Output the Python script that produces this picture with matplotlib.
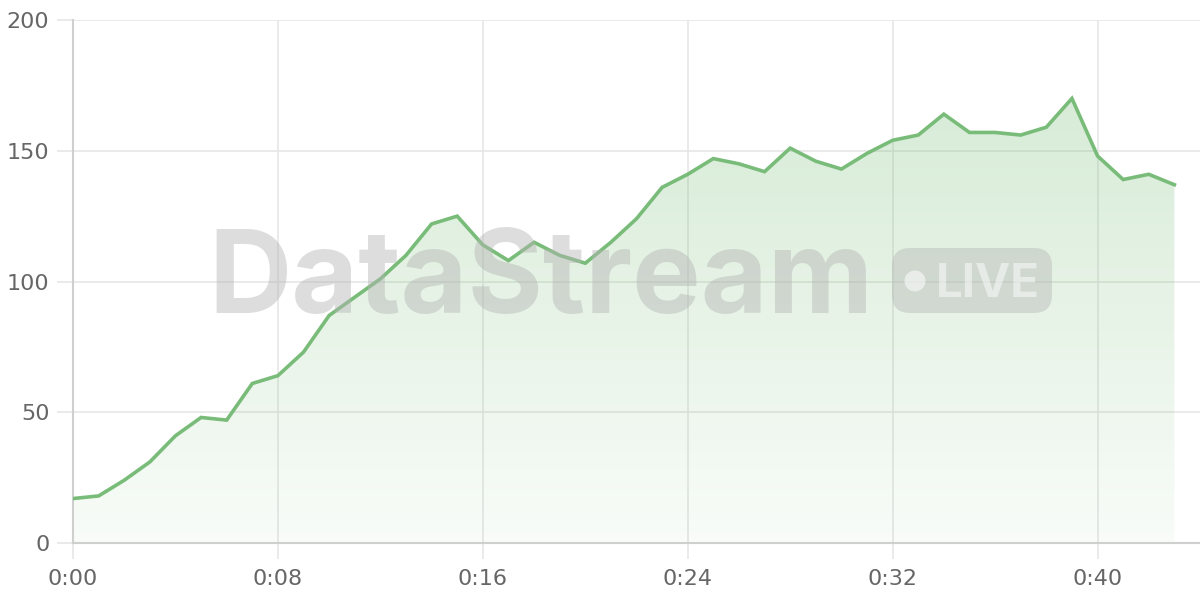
import matplotlib
matplotlib.use("Agg")
import matplotlib.pyplot as plt
import numpy as np
from matplotlib.patches import FancyBboxPatch, Circle
from matplotlib.colors import LinearSegmentedColormap
from matplotlib.transforms import IdentityTransform

minutes = list(range(44))
values = [17, 18, 24, 31, 41, 48, 47, 61, 64, 73, 87, 94, 101, 110, 122, 125,
          114, 108, 115, 110, 107, 115, 124, 136, 141, 147, 145, 142, 151, 146,
          143, 149, 154, 156, 164, 157, 157, 156, 159, 170, 148, 139, 141, 137]
xtick_pos = [0, 8, 16, 24, 32, 40]
xtick_labels = ["0:00", "0:08", "0:16", "0:24", "0:32", "0:40"]
ytick_pos = [0, 50, 100, 150, 200]

plt.rcParams['font.family'] = ['DejaVu Sans']

W, H = 1200, 600
fig = plt.figure(figsize=(12, 6), dpi=100)
ax = fig.add_axes([73/W, 57/H, 1 - 73/W, 523/H])
ax.set_xlim(0, 44)
ax.set_ylim(0, 200)

line_color = '#79bc79'
grid_color = '#e6e6e6'

ax.set_xticks(xtick_pos, xtick_labels)
ax.set_yticks(ytick_pos)
ax.grid(True, color=grid_color, linewidth=1.2, zorder=0)
ax.tick_params(axis='both', colors=grid_color, labelcolor='#666666', labelsize=16,
               length=11.5, width=1.2)
ax.tick_params(axis='x', pad=7)
ax.tick_params(axis='y', pad=5.5)
for s in ['top', 'right']:
    ax.spines[s].set_visible(False)
for s in ['left', 'bottom']:
    ax.spines[s].set_color('#cfcfcf')
    ax.spines[s].set_linewidth(1.5)

# watermark
fig.text(541/W, (H-313)/H, 'DataStream', fontsize=83, family=['Inter'],
         fontweight='bold', color='#b4b4b4', alpha=0.45, ha='center', va='baseline',
         zorder=1)
badge = FancyBboxPatch((892, H-313), 160, 65,
                       boxstyle='round,pad=0,rounding_size=18',
                       transform=IdentityTransform(), facecolor='#b4b4b4', alpha=0.42,
                       edgecolor='none', zorder=1)
fig.patches.append(badge)
dot = Circle((915, H-281), 10.5, transform=IdentityTransform(), facecolor='white',
             alpha=0.55, edgecolor='none', zorder=2)
fig.patches.append(dot)
fig.text(936/W, (H-297)/H, 'LIVE', color='white', alpha=0.5, fontsize=34,
         family=['Inter'], ha='left', va='baseline', fontweight='bold')

# gradient fill
x = np.array(minutes, dtype=float)
y = np.array(values, dtype=float)
poly = ax.fill_between(x, y, 0, color='none', linewidth=0)
cmap = LinearSegmentedColormap.from_list('g', [(0.47, 0.74, 0.47, 0.05),
                                               (0.47, 0.74, 0.47, 0.30)])
grad = np.linspace(0, 1, 256).reshape(-1, 1)
im = ax.imshow(grad, extent=[0, 43, 0, 175], origin='lower', aspect='auto',
               cmap=cmap, zorder=2)
path = poly.get_paths()[0]
im.set_clip_path(path, transform=ax.transData)
ax.set_xlim(0, 44)
ax.set_ylim(0, 200)

ax.plot(x, y, color=line_color, linewidth=2.6, zorder=3, solid_joinstyle='miter')

fig.savefig('out.png', dpi=100)
